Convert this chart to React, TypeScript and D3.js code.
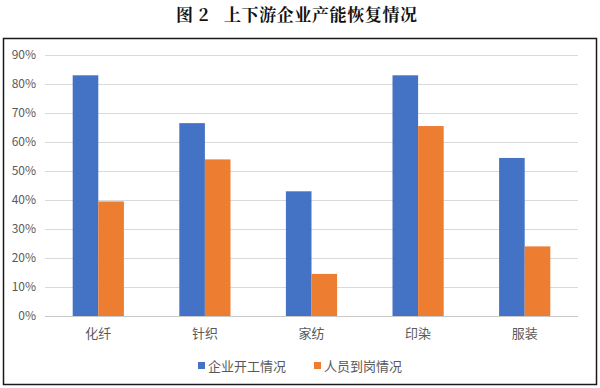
import { useEffect, useRef } from "react"
import * as d3 from "d3"

const categories = ["化纤", "针织", "家纺", "印染", "服装"]
const seriesNames = ["企业开工情况", "人员到岗情况"]
const startWork = [83, 66.5, 43, 83, 54.5]
const staffBack = [39.5, 54, 14.5, 65.5, 24]
const yTicks = [0, 10, 20, 30, 40, 50, 60, 70, 80, 90]
const colors = ["#4472C4", "#ED7D31"]

const W = 600
const H = 388

export default function App() {
    const ref = useRef(null)

    useEffect(() => {
        const svg = d3.select(ref.current)
        svg.selectAll("*").remove()

        const font = "'Noto Sans CJK SC', sans-serif"
        const left = 45, right = 578, top = 55, bottom = 316

        // title, split so the gaps match the original spacing
        const title = svg.append("text")
            .attr("y", 21)
            .attr("font-family", "'Noto Serif CJK SC', 'Noto Sans CJK SC', serif")
            .attr("font-weight", "bold")
            .attr("font-size", 17)
            .attr("letter-spacing", 0.6)
            .attr("fill", "#111")
        title.append("tspan").attr("x", 176).text("图 2")
        title.append("tspan").attr("x", 224).text("上下游企业产能恢复情况")

        // frame
        svg.append("rect")
            .attr("x", 3.5).attr("y", 38.5)
            .attr("width", 593).attr("height", 346)
            .attr("fill", "white")
            .attr("stroke", "#1a1a1a")
            .attr("stroke-width", 1.5)

        const x = d3.scaleBand().domain(categories).range([left, right])
        const y = d3.scaleLinear().domain([0, 90]).range([bottom, top])

        const grid = svg.append("g")
        grid.selectAll("line")
            .data(yTicks)
            .join("line")
            .attr("x1", left).attr("x2", right)
            .attr("y1", d => Math.round(y(d)) + 0.5)
            .attr("y2", d => Math.round(y(d)) + 0.5)
            .attr("stroke", d => d === 0 ? "#c8c8c8" : "#d9d9d9")
            .attr("stroke-width", 1)

        svg.append("g").selectAll("text")
            .data(yTicks)
            .join("text")
            .attr("x", 36)
            .attr("y", d => y(d) + 4)
            .attr("text-anchor", "end")
            .attr("font-family", font)
            .attr("font-size", 12)
            .attr("fill", "#595959")
            .text(d => d + "%")

        const barW = 25.6
        const series = [startWork, staffBack]
        series.forEach((vals, si) => {
            svg.append("g").selectAll("rect")
                .data(vals)
                .join("rect")
                .attr("x", (d, i) => x(categories[i]) + x.bandwidth() / 2 + (si - 1) * barW)
                .attr("y", d => y(d))
                .attr("width", barW)
                .attr("height", d => bottom - y(d))
                .attr("fill", colors[si])
        })

        svg.append("g").selectAll("text")
            .data(categories)
            .join("text")
            .attr("x", d => x(d) + x.bandwidth() / 2)
            .attr("y", 338)
            .attr("text-anchor", "middle")
            .attr("font-family", font)
            .attr("font-size", 13)
            .attr("fill", "#595959")
            .text(d => d)

        // legend
        const legendX = [198, 314]
        const lg = svg.append("g")
        seriesNames.forEach((name, i) => {
            lg.append("rect")
                .attr("x", legendX[i]).attr("y", 362)
                .attr("width", 7).attr("height", 7)
                .attr("fill", colors[i])
            lg.append("text")
                .attr("x", legendX[i] + 10).attr("y", 370.5)
                .attr("font-family", font)
                .attr("font-size", 13)
                .attr("fill", "#595959")
                .text(name)
        })
    }, [])

    return (
        <svg ref={ref} width={W} height={H}
            style={{ position: "absolute", left: 0, top: 0, background: "white" }} />
    )
}
